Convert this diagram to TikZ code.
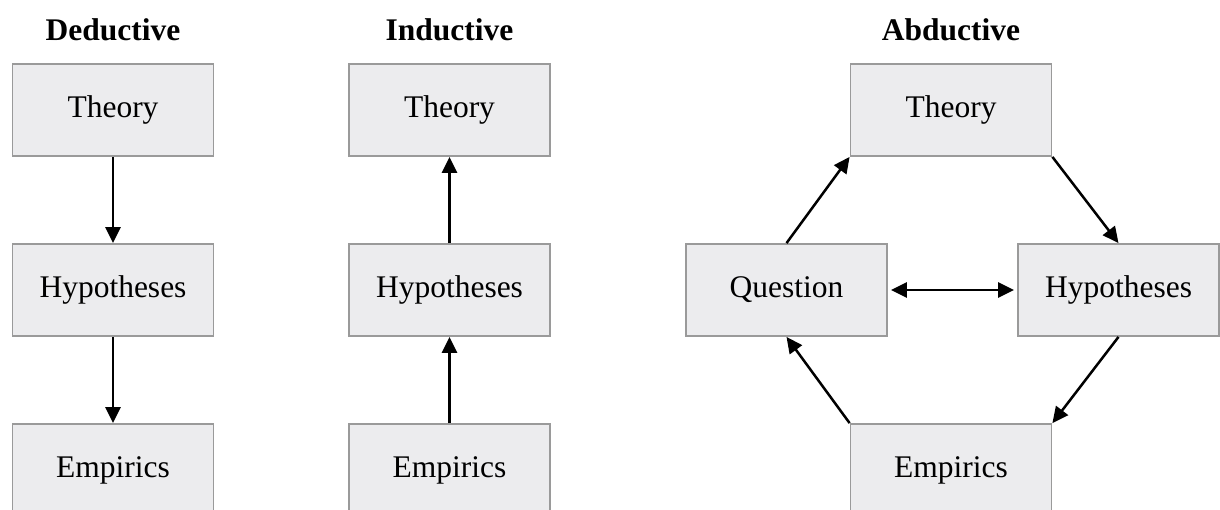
\documentclass[tikz,border=0pt]{standalone}
\usepackage{fontspec}
\setmainfont{Liberation Serif}
\usetikzlibrary{arrows.meta}
\definecolor{boxfill}{HTML}{ECECEE}
\definecolor{boxline}{HTML}{9A9A9A}
\tikzset{
	stepbox/.style={draw=boxline, fill=boxfill, line width=1.8pt, minimum width=201pt, minimum height=92pt, inner sep=0pt, font=\fontsize{31.5}{36}\selectfont},
	headline/.style={anchor=base, font=\fontsize{31.5}{36}\selectfont\bfseries},
	link/.style={line width=2.5pt, -{Triangle[length=16pt,width=15pt]}},
	twolink/.style={line width=2.5pt, {Triangle[length=16pt,width=15pt]}-{Triangle[length=16pt,width=15pt]}}
}
\begin{document}
\begin{tikzpicture}[x=1pt, y=-1pt]
			%%%%% START %%%%%
			\useasboundingbox (0, 0) rectangle (1220, 509);
			
			% deductive
			\node[headline] (dedhead) at (113, 40) {Deductive};
			\node[stepbox] (dedtheory) at (113, 110) {Theory};
			\node[stepbox] (dedhyp) at (113, 290) {Hypotheses};
			\node[stepbox] (dedemp) at (113, 470) {Empirics};
			\draw[link] (dedtheory) -- (dedhyp);
			\draw[link] (dedhyp) -- (dedemp);
			
			% inductive
			\node[headline] (indhead) at (449.5, 40) {Inductive};
			\node[stepbox] (indtheory) at (449.5, 110) {Theory};
			\node[stepbox] (indhyp) at (449.5, 290) {Hypotheses};
			\node[stepbox] (indemp) at (449.5, 470) {Empirics};
			\draw[link] (indemp) -- (indhyp);
			\draw[link] (indhyp) -- (indtheory);
			
			% abductive
			\node[headline] (abdhead) at (951, 40) {Abductive};
			\node[stepbox] (abdtheory) at (951, 110) {Theory};
			\node[stepbox] (abdquest) at (786.5, 290) {Question};
			\node[stepbox] (abdhyp) at (1118.5, 290) {Hypotheses};
			\node[stepbox] (abdemp) at (951, 470) {Empirics};
			\draw[link] (abdquest.north) -- (abdtheory.south west);
			\draw[link] (abdtheory.south east) -- (abdhyp.north);
			\draw[link] (abdhyp.south) -- (abdemp.north east);
			\draw[link] (abdemp.north west) -- (abdquest.south);
			\draw[twolink] ([xshift=3pt]abdquest.east) -- ([xshift=-3pt]abdhyp.west);
			
			%%%%% END %%%%%
\end{tikzpicture}
\end{document}
